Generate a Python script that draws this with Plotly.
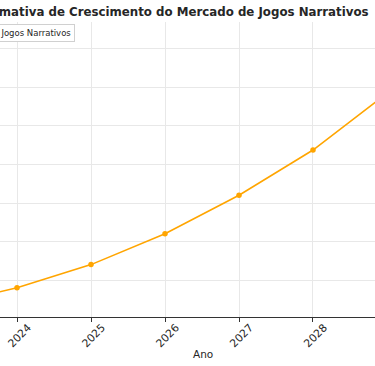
import plotly.graph_objects as go

years = [2023, 2024, 2025, 2026, 2027, 2028, 2029]
market = [10.7, 11.6, 12.8, 14.4, 16.4, 18.75, 21.7]
tick_years = [2024, 2025, 2026, 2027, 2028]
title_text = "Estimativa de Crescimento do Mercado de Jogos Narrativos"
legend_text = "Mercado de Jogos Narrativos"
xlabel = "Ano"

W, H = 375, 366
TOP, BOT = 22, 49
PH = H - TOP - BOT

FONT = "DejaVu Sans"
ORANGE = "#FFA500"

fig = go.Figure()
fig.add_trace(go.Scatter(
    x=years, y=market, mode="lines+markers",
    line=dict(color=ORANGE, width=1.6),
    marker=dict(color=ORANGE, size=5.5),
    showlegend=False, cliponaxis=True,
))

fig.update_layout(
    width=W, height=H,
    margin=dict(l=0, r=0, t=TOP, b=BOT, pad=0),
    paper_bgcolor="white", plot_bgcolor="white",
    font=dict(family=FONT, color="#262626"),
    xaxis=dict(
        range=[2023.770, 2028.838],
        tickvals=tick_years, ticktext=[str(v) for v in tick_years],
        tickangle=-45, tickfont=dict(size=10.8, color="#262626"),
        ticks="outside", ticklen=4, tickwidth=1, tickcolor="#333333",
        showline=True, linecolor="#333333", linewidth=1.2,
        showgrid=True, gridcolor="#e8e8e8", gridwidth=1,
        zeroline=False, ticklabelshift=11, ticklabelstandoff=-5,
    ),
    yaxis=dict(
        range=[10.08, 25.4], tick0=12, dtick=2,
        showticklabels=False, ticks="",
        showgrid=True, gridcolor="#e8e8e8", gridwidth=1,
        showline=False, zeroline=False,
    ),
    annotations=[
        dict(text="<b>" + title_text + "</b>", xref="paper", yref="paper",
             x=371 / W, y=(H - BOT - 12) / PH, xanchor="right", yanchor="middle",
             showarrow=False, font=dict(size=11.8, family=FONT, color="#262626")),
        dict(text=legend_text, xref="paper", yref="paper",
             x=75 / W, y=(H - BOT - 32.5) / PH, xanchor="right", yanchor="middle",
             showarrow=False, bgcolor="white", bordercolor="#d0d0d0", borderwidth=1,
             borderpad=3, font=dict(size=8.5, family=FONT, color="#262626")),
        dict(text=xlabel, xref="paper", yref="paper",
             x=203 / W, y=(H - BOT - 354) / PH, xanchor="center", yanchor="middle",
             showarrow=False, font=dict(size=10.5, family=FONT, color="#262626")),
    ],
)

fig.write_html("out.html", config={"displayModeBar": False},
               post_script="document.body.style.margin='0px';document.body.style.overflow='hidden';")
